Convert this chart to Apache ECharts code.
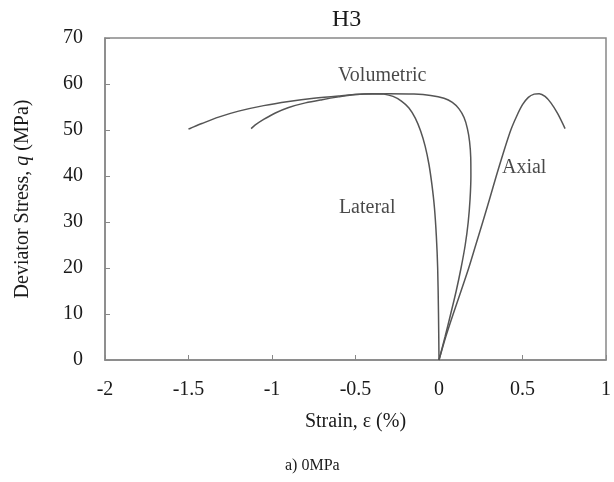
<!DOCTYPE html>
<html>
<head>
<meta charset="utf-8">
<script src="https://cdn.jsdelivr.net/npm/echarts@6/dist/echarts.min.js"></script>
<style>
  html, body { margin: 0; padding: 0; background: #fff; }
  #main { width: 614px; height: 482px; }
</style>
</head>
<body>
<div id="main"></div>
<script>
// strain (%) vs deviator stress (MPa)
var axialData = [
    [0, 0], [0.04, 5], [0.085, 10], [0.132, 15], [0.178, 20], [0.22, 25],
    [0.262, 30], [0.303, 35], [0.343, 40], [0.385, 45], [0.43, 50], [0.465, 53],
    [0.5, 55.5], [0.535, 57.1], [0.57, 57.8], [0.6, 57.9], [0.635, 57.3],
    [0.67, 55.9], [0.71, 53.6], [0.755, 50.3]
];
var volumetricData = [
    [0, 0], [0.036, 5], [0.07, 10], [0.103, 15], [0.132, 20], [0.157, 25],
    [0.175, 30], [0.186, 35], [0.191, 40], [0.19, 44], [0.183, 47.5], [0.17, 50.3],
    [0.15, 52.7], [0.12, 54.6], [0.08, 56], [0.03, 56.9], [-0.05, 57.5],
    [-0.15, 57.8], [-0.3, 57.9], [-0.45, 57.8], [-0.6, 57.4], [-0.75, 56.9],
    [-0.9, 56.2], [-1.05, 55.3], [-1.2, 54.1], [-1.32, 52.8], [-1.42, 51.4],
    [-1.5, 50.2]
];
var lateralData = [
    [0, 0], [-0.003, 10], [-0.008, 20], [-0.016, 27], [-0.027, 33], [-0.042, 38],
    [-0.06, 42.5], [-0.083, 46.5], [-0.11, 49.8], [-0.142, 52.6], [-0.18, 54.8],
    [-0.225, 56.3], [-0.275, 57.3], [-0.33, 57.8], [-0.4, 57.9], [-0.5, 57.7],
    [-0.6, 57.2], [-0.7, 56.6], [-0.8, 55.9], [-0.9, 54.9], [-0.98, 53.7],
    [-1.05, 52.3], [-1.1, 51.1], [-1.125, 50.3]
];
// curve name labels, placed in data coordinates
var curveLabels = [
    { name: 'Volumetric', value: [-0.34, 61.8] },
    { name: 'Lateral', value: [-0.43, 33] },
    { name: 'Axial', value: [0.51, 41.9] }
];

var chart = echarts.init(document.getElementById('main'));
var font = 'Liberation Serif';
var ink = '#1a1a1a';
var lineStyle = { color: '#555', width: 1.5 };

function curve(name, data) {
    return {
        name: name,
        type: 'line',
        data: data,
        smooth: 0.3,
        showSymbol: false,
        lineStyle: lineStyle,
        silent: true
    };
}

var option = {
    animation: false,
    textStyle: { fontFamily: font },
    grid: {
        left: 105, right: 4, top: 38, bottom: 122,
        show: true, borderColor: '#888', borderWidth: 1.5
    },
    graphic: [
        { type: 'text', left: 332, top: 8,
          style: { text: 'H3', font: '24px ' + font, fill: ink } },
        { type: 'text', left: 285, top: 458,
          style: { text: 'a) 0MPa', font: '16px ' + font, fill: ink } }
    ],
    xAxis: {
        type: 'value',
        min: -2, max: 1, interval: 0.5,
        name: 'Strain, ε (%)',
        nameLocation: 'middle',
        nameGap: 52,
        nameTextStyle: { fontSize: 20, color: ink, fontFamily: font },
        axisLine: { onZero: false, lineStyle: { color: '#888', width: 1.5 } },
        axisTick: { inside: true, length: 5, lineStyle: { color: '#888' } },
        axisLabel: { fontSize: 20, color: ink, margin: 20, fontFamily: font },
        splitLine: { show: false }
    },
    yAxis: {
        type: 'value',
        min: 0, max: 70, interval: 10,
        name: 'Deviator Stress, {i|q} (MPa)',
        nameLocation: 'middle',
        nameGap: 72,
        nameTextStyle: {
            fontSize: 20, color: ink, fontFamily: font,
            rich: { i: { fontSize: 20, fontStyle: 'italic', color: ink, fontFamily: font } }
        },
        axisLine: { onZero: false, lineStyle: { color: '#888', width: 1.5 } },
        axisTick: { inside: true, length: 5, lineStyle: { color: '#888' } },
        axisLabel: { fontSize: 20, color: ink, margin: 22, fontFamily: font },
        splitLine: { show: false }
    },
    series: [
        curve('Axial', axialData),
        curve('Volumetric', volumetricData),
        curve('Lateral', lateralData),
        {
            type: 'scatter',
            data: curveLabels,
            symbolSize: 0,
            silent: true,
            label: {
                show: true,
                position: 'inside',
                formatter: '{b}',
                fontSize: 20,
                color: ink,
                fontFamily: font
            }
        }
    ]
};
chart.setOption(option);
</script>
</body>
</html>
